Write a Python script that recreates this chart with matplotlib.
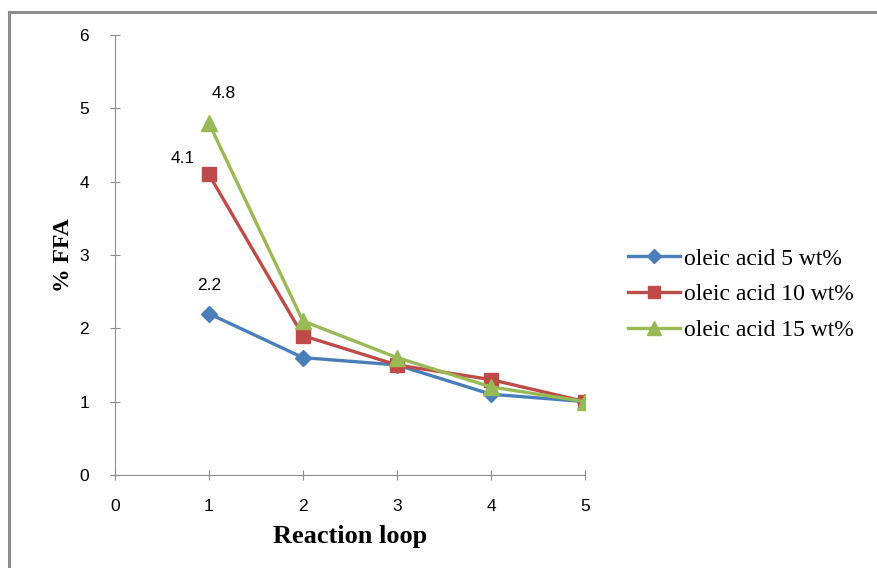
import matplotlib.pyplot as plt
from matplotlib.lines import Line2D

# data
loops = [1, 2, 3, 4, 5]
acid_5 = [2.2, 1.6, 1.5, 1.1, 1.0]
acid_10 = [4.1, 1.9, 1.5, 1.3, 1.0]
acid_15 = [4.8, 2.1, 1.6, 1.2, 1.0]
series_labels = ['oleic acid 5 wt%', 'oleic acid 10 wt%', 'oleic acid 15 wt%']

fig = plt.figure(figsize=(8.77, 5.68), dpi=100)
ax = fig.add_axes([0.131, 0.164, 0.536, 0.774])

# gray frame edges (top and left only, the chart is cropped)
fig.add_artist(Line2D([0.0105, 1.0], [0.979, 0.979], transform=fig.transFigure,
                      color='#8c8c8c', lw=2.2))
fig.add_artist(Line2D([0.0105, 0.0105], [0.0, 0.979], transform=fig.transFigure,
                      color='#8c8c8c', lw=2.2))

ax.plot(loops, acid_5, color='#4A7EBB', lw=2.4, marker='D', ms=8, label=series_labels[0])
ax.plot(loops, acid_10, color='#BE4B48', lw=2.4, marker='s', ms=10, label=series_labels[1])
ax.plot(loops, acid_15, color='#98B954', lw=2.4, marker='^', ms=11, label=series_labels[2])

# value labels on the first point
ax.annotate('2.2', (loops[0], acid_5[0]), xytext=(0, 17), textcoords='offset points',
            ha='center', fontsize=12.5, family='Liberation Sans')
ax.annotate('4.1', (loops[0], acid_10[0]), xytext=(-19, 8), textcoords='offset points',
            ha='center', fontsize=12.5, family='Liberation Sans')
ax.annotate('4.8', (loops[0], acid_15[0]), xytext=(11, 18), textcoords='offset points',
            ha='center', fontsize=12.5, family='Liberation Sans')

ax.set_xlim(0, 5)
ax.set_ylim(0, 6)
ax.set_xticks(range(0, 6))
ax.set_yticks(range(0, 7))
for s in ['top', 'right']:
    ax.spines[s].set_visible(False)
for s in ['left', 'bottom']:
    ax.spines[s].set_color('#8c8c8c')
ax.tick_params(colors='#8c8c8c', length=7, direction='inout', labelcolor='black', labelsize=12.5)
for lab in ax.get_xticklabels() + ax.get_yticklabels():
    lab.set_family('Liberation Sans')
ax.tick_params(axis='y', pad=15)
ax.tick_params(axis='x', pad=14)

ax.set_xlabel('Reaction loop', family='Liberation Serif', fontweight='bold', fontsize=19, labelpad=8)
ax.set_ylabel('% FFA', family='Liberation Serif', fontweight='bold', fontsize=17, labelpad=4)

ax.legend(loc='center left', bbox_to_anchor=(1.047, 0.41), frameon=False,
          prop={'family': 'Liberation Serif', 'size': 17}, handlelength=2.2,
          handletextpad=0.15, labelspacing=0.6, markerscale=0.9)

fig.savefig('out.png', dpi=100)
